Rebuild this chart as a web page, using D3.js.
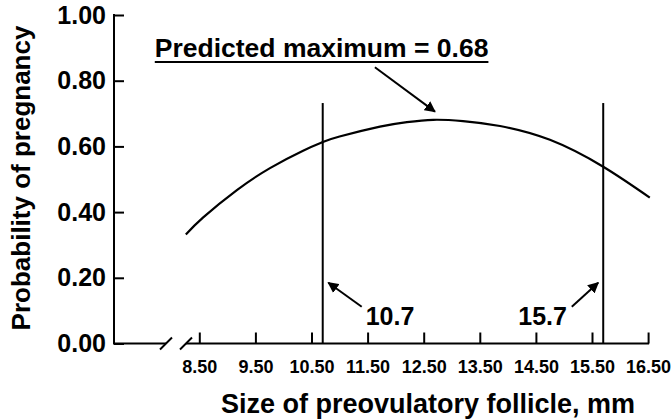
<!DOCTYPE html>
<html>
<head>
<meta charset="utf-8">
<script src="https://cdn.jsdelivr.net/npm/d3@7"></script>
<style>
  body { margin: 0; background: #fff; }
  svg text { font-family: "Liberation Sans", Arial, sans-serif; font-weight: bold; fill: #000; }
</style>
</head>
<body>
<svg id="chart"></svg>
<script>
// follicle size (mm) and predicted probability
const sizes = [8.26, 8.57, 9.17, 9.76, 10.35, 10.7, 11.0, 11.72, 12.2, 12.67, 13.2, 13.86, 14.75, 15.7, 16.53];
const probs = [0.332, 0.384, 0.467, 0.534, 0.587, 0.613, 0.630, 0.660, 0.674, 0.681, 0.677, 0.662, 0.620, 0.538, 0.444];

const xTicks = [8.5, 9.5, 10.5, 11.5, 12.5, 13.5, 14.5, 15.5, 16.5];
const yTicks = [0, 0.2, 0.4, 0.6, 0.8, 1.0];

const cutoffs = [10.7, 15.7];      // vertical reference lines
const cutoffTop = 0.732;
const maxLabel = "Predicted maximum = 0.68";

const width = 672, height = 419;

const svg = d3.select("#chart")
  .attr("width", width)
  .attr("height", height);

const x = d3.scaleLinear().domain([8.5, 16.5]).range([199.3, 648.1]);
const y = d3.scaleLinear().domain([0, 1]).range([343.5, 15]);
const axisX = 114;   // where the y axis sits

// arrow head marker
svg.append("defs").append("marker")
  .attr("id", "arrow")
  .attr("viewBox", "0 0 10 10")
  .attr("refX", 9).attr("refY", 5)
  .attr("markerWidth", 11).attr("markerHeight", 11)
  .attr("markerUnits", "userSpaceOnUse")
  .attr("orient", "auto")
  .append("path")
  .attr("d", "M0,0 L10,5 L0,10 Z")
  .attr("fill", "#000");

// x axis
const xAxis = d3.axisBottom(x)
  .tickValues(xTicks)
  .tickFormat(d3.format(".2f"))
  .tickSizeInner(-11)
  .tickSizeOuter(0)
  .tickPadding(17);

const gx = svg.append("g")
  .attr("transform", `translate(0,${y(0)})`)
  .call(xAxis);
gx.select(".domain").remove();
gx.selectAll(".tick line").attr("stroke", "#000").attr("stroke-width", 2);
gx.selectAll(".tick text").style("font-size", "18px");

// axis line with a break near the origin
const breaks = [166, 186];
const axisY = y(0);
svg.append("line")
  .attr("x1", axisX - 1).attr("x2", breaks[0])
  .attr("y1", axisY).attr("y2", axisY)
  .attr("stroke", "#000").attr("stroke-width", 2);
svg.append("line")
  .attr("x1", breaks[1]).attr("x2", x(16.5) + 1)
  .attr("y1", axisY).attr("y2", axisY)
  .attr("stroke", "#000").attr("stroke-width", 2);
svg.selectAll(".brk")
  .data(breaks)
  .join("line")
  .attr("class", "brk")
  .attr("x1", d => d - 6).attr("y1", axisY + 6)
  .attr("x2", d => d + 6).attr("y2", axisY - 6)
  .attr("stroke", "#000").attr("stroke-width", 2);

// y axis
const yAxis = d3.axisLeft(y)
  .tickValues(yTicks)
  .tickFormat(d3.format(".2f"))
  .tickSizeInner(-10)
  .tickSizeOuter(0)
  .tickPadding(8);

const gy = svg.append("g")
  .attr("transform", `translate(${axisX},0)`)
  .call(yAxis);
gy.select(".domain").remove();
gy.selectAll(".tick line").attr("stroke", "#000").attr("stroke-width", 2);
gy.selectAll(".tick text").style("font-size", "25px");

svg.append("line")
  .attr("x1", axisX).attr("x2", axisX)
  .attr("y1", y(1) - 1).attr("y2", axisY)
  .attr("stroke", "#000").attr("stroke-width", 2);

// axis titles
svg.append("text")
  .attr("transform", `translate(30,178) rotate(-90)`)
  .attr("text-anchor", "middle")
  .style("font-size", "26px")
  .text("Probability of pregnancy");

svg.append("text")
  .attr("x", 428)
  .attr("y", 413)
  .attr("text-anchor", "middle")
  .style("font-size", "27px")
  .text("Size of preovulatory follicle, mm");

// vertical cut-off lines
svg.selectAll(".cut")
  .data(cutoffs)
  .join("line")
  .attr("class", "cut")
  .attr("x1", d => x(d)).attr("x2", d => x(d))
  .attr("y1", y(cutoffTop)).attr("y2", axisY)
  .attr("stroke", "#000").attr("stroke-width", 2);

// fitted curve
const pts = sizes.map((s, i) => [s, probs[i]]);
svg.append("path")
  .datum(pts)
  .attr("fill", "none")
  .attr("stroke", "#000")
  .attr("stroke-width", 2.2)
  .attr("d", d3.line()
    .x(d => x(d[0]))
    .y(d => y(d[1]))
    .curve(d3.curveNatural));

// annotations
const maxText = svg.append("text")
  .attr("x", x(10.68))
  .attr("y", y(0.872))
  .attr("text-anchor", "middle")
  .style("font-size", "26.5px")
  .text(maxLabel);
const bb = maxText.node().getBBox();
svg.append("line")
  .attr("x1", bb.x).attr("x2", bb.x + bb.width)
  .attr("y1", 62).attr("y2", 62)
  .attr("stroke", "#000").attr("stroke-width", 2);

const arrows = [
  { from: [11.63, 0.841], to: [12.70, 0.706] },
  { from: [11.395, 0.112], to: [10.80, 0.185] },
  { from: [15.14, 0.112], to: [15.61, 0.185] }
];
svg.selectAll(".arr")
  .data(arrows)
  .join("line")
  .attr("class", "arr")
  .attr("x1", d => x(d.from[0])).attr("y1", d => y(d.from[1]))
  .attr("x2", d => x(d.to[0])).attr("y2", d => y(d.to[1]))
  .attr("stroke", "#000").attr("stroke-width", 2)
  .attr("marker-end", "url(#arrow)");

const cutLabels = [
  { pos: 11.90, text: "10.7" },
  { pos: 14.62, text: "15.7" }
];
svg.selectAll(".cutlab")
  .data(cutLabels)
  .join("text")
  .attr("class", "cutlab")
  .attr("x", d => x(d.pos))
  .attr("y", y(0.056))
  .attr("text-anchor", "middle")
  .style("font-size", "25px")
  .text(d => d.text);
</script>
</body>
</html>
